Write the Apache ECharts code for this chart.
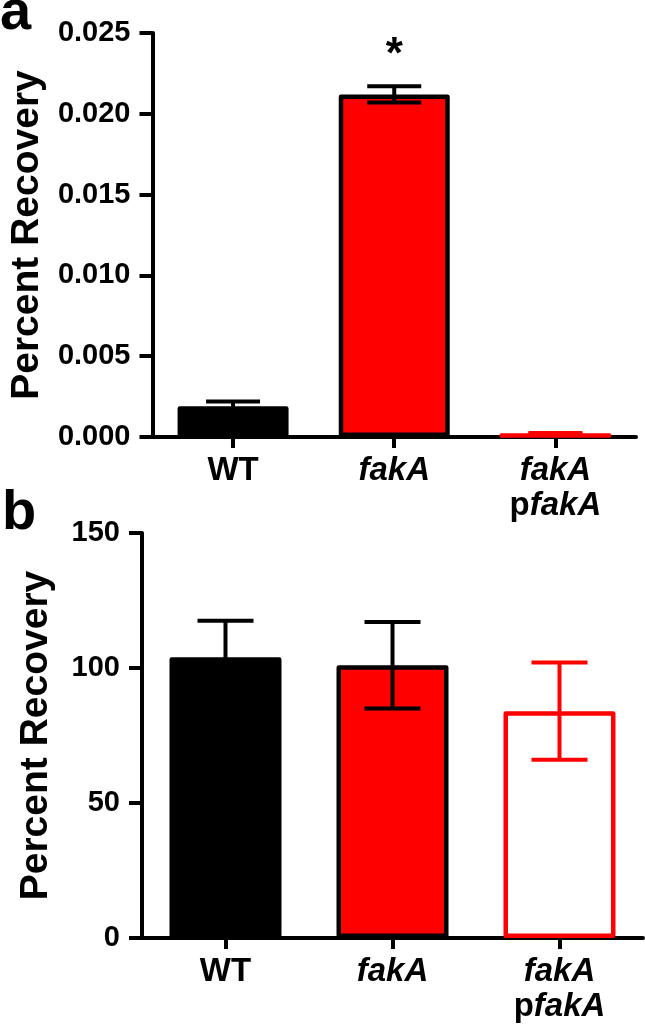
<!DOCTYPE html>
<html>
<head>
<meta charset="utf-8">
<script src="https://cdn.jsdelivr.net/npm/echarts@6/dist/echarts.min.js"></script>
<style>
html,body{margin:0;padding:0;background:#fff;}
#chart{width:645px;height:1031px;}
</style>
</head>
<body>
<div id="chart"></div>
<script>
// ---- data ----
const categories = ['WT', 'fakA', 'fakA pfakA'];
const meanA = [0.0019, 0.0212, 0.0002];
const semA = [0.0003, 0.0005, 0.00005];
const sigA = ['', '*', ''];
const meanB = [104, 101, 84];
const semB = [13.5, 16, 18];
const sigB = ['', '', ''];
const yTicksA = [0, 0.005, 0.010, 0.015, 0.020, 0.025];
const yTicksB = [0, 50, 100, 150];
const yTitle = 'Percent Recovery';
const panelLetters = ['a', 'b'];

// ---- styles ----
const RED = '#ff0000';
const BLACK = '#000000';
const fills = [BLACK, RED, '#ffffff'];
const borders = [BLACK, BLACK, RED];
const errColors = [BLACK, BLACK, RED];
const FONT = '"Liberation Sans", Arial, Helvetica, sans-serif';

function fmtCat(v) {
  return v.split(' ').map(function (w) {
    if (w === 'WT') return '{n|WT}';
    if (w.charAt(0) === 'p' && w.length > 1) return '{n|p}{i|' + w.slice(1) + '}';
    return '{i|' + w + '}';
  }).join('\n');
}

function barData(means) {
  return means.map(function (v, i) {
    return {
      value: v,
      itemStyle: { color: fills[i], borderColor: borders[i], borderWidth: 4.5, borderJoin: 'round' }
    };
  });
}

function errRender(sig, capHalf) {
  return function (params, api) {
    const i = api.value(0);
    const m = api.value(1);
    const s = api.value(2);
    const top = api.coord([i, m + s]);
    const bot = api.coord([i, m - s]);
    const col = errColors[i];
    const st = { stroke: col, lineWidth: 4 };
    const children = [
      { type: 'line', shape: { x1: top[0], y1: top[1], x2: bot[0], y2: bot[1] }, style: st },
      { type: 'line', shape: { x1: top[0] - capHalf, y1: top[1], x2: top[0] + capHalf, y2: top[1] }, style: st },
      { type: 'line', shape: { x1: bot[0] - capHalf, y1: bot[1], x2: bot[0] + capHalf, y2: bot[1] }, style: st }
    ];
    if (sig[i]) {
      children.push({
        type: 'text',
        style: { text: sig[i], x: top[0], y: top[1] - 30, align: 'center', verticalAlign: 'middle',
                 font: 'bold 44px ' + FONT, fill: BLACK }
      });
    }
    return { type: 'group', children: children };
  };
}

const axisLineStyle = { color: BLACK, width: 4 };
const catLabel = {
  color: BLACK,
  fontFamily: FONT,
  margin: 16,
  formatter: fmtCat,
  lineHeight: 35,
  rich: {
    n: { fontSize: 33, fontWeight: 'bold', fontFamily: FONT, color: BLACK, lineHeight: 35 },
    i: { fontSize: 33, fontWeight: 'bold', fontStyle: 'italic', fontFamily: FONT, color: BLACK, lineHeight: 35 }
  }
};

function yAxis(idx, ticks, gap, fmt) {
  return {
    type: 'value',
    gridIndex: idx,
    min: ticks[0],
    max: ticks[ticks.length - 1],
    interval: ticks[1] - ticks[0],
    name: yTitle,
    nameLocation: 'middle',
    nameGap: gap,
    nameTextStyle: { fontSize: 39, fontWeight: 'bold', fontFamily: FONT, color: BLACK },
    axisLine: { show: true, lineStyle: axisLineStyle },
    axisTick: { show: true, length: 13, lineStyle: { color: BLACK, width: 4 } },
    axisLabel: { color: BLACK, fontSize: 29, fontWeight: 'bold', fontFamily: FONT, margin: 22, formatter: fmt },
    splitLine: { show: false }
  };
}

function xAxis(idx) {
  return {
    type: 'category',
    gridIndex: idx,
    data: categories,
    axisLine: { show: true, lineStyle: axisLineStyle },
    axisTick: { show: true, alignWithLabel: true, length: 11, lineStyle: { color: BLACK, width: 4 } },
    axisLabel: catLabel,
    splitLine: { show: false }
  };
}

const option = {
  animation: false,
  backgroundColor: '#ffffff',
  grid: [
    { left: 141, top: 33, width: 495, height: 404 },
    { left: 142, top: 533, width: 501, height: 405 }
  ],
  xAxis: [xAxis(0), xAxis(1)],
  yAxis: [
    yAxis(0, yTicksA, 104, function (v) { return v.toFixed(3); }),
    yAxis(1, yTicksB, 86, function (v) { return String(v); })
  ],
  graphic: [
    { type: 'text', left: 0, top: -14, style: { text: panelLetters[0], font: 'bold 56px ' + FONT, fill: BLACK } },
    { type: 'text', left: 2, top: 486, style: { text: panelLetters[1], font: 'bold 56px ' + FONT, fill: BLACK } }
  ],
  series: [
    { type: 'bar', xAxisIndex: 0, yAxisIndex: 0, barWidth: 111, data: barData(meanA), z: 2 },
    { type: 'custom', xAxisIndex: 0, yAxisIndex: 0, z: 5,
      data: meanA.map(function (m, i) { return [i, m, semA[i]]; }),
      renderItem: errRender(sigA, 27) },
    { type: 'bar', xAxisIndex: 1, yAxisIndex: 1, barWidth: 112, data: barData(meanB), z: 2 },
    { type: 'custom', xAxisIndex: 1, yAxisIndex: 1, z: 5,
      data: meanB.map(function (m, i) { return [i, m, semB[i]]; }),
      renderItem: errRender(sigB, 28) }
  ]
};

const chart = echarts.init(document.getElementById('chart'), null, { renderer: 'canvas' });
chart.setOption(option);
</script>
</body>
</html>
